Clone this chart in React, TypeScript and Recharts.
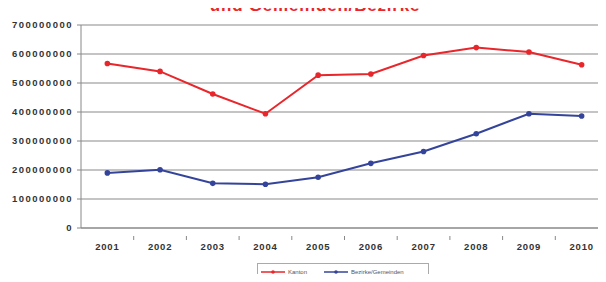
import React from 'react';
import { LineChart, Line, XAxis, YAxis, CartesianGrid } from 'recharts';

const years = ['2001', '2002', '2003', '2004', '2005', '2006', '2007', '2008', '2009', '2010'];
const kanton = [567000000, 540000000, 462000000, 394000000, 527000000, 531000000, 595000000, 622000000, 607000000, 563000000];
const bezirke = [190000000, 201000000, 154000000, 151000000, 175000000, 223000000, 264000000, 325000000, 394000000, 386000000];
const yTicks = [0, 100000000, 200000000, 300000000, 400000000, 500000000, 600000000, 700000000];

const data = years.map((year, i) => ({ year, kanton: kanton[i], bezirke: bezirke[i] }));

const RED = '#e8262b';
const BLUE = '#34449a';
const FONT = 'Liberation Sans, Arial, sans-serif';

const tickStyle = { fontSize: 9.5, fontWeight: 700, fill: '#333', fontFamily: FONT };

// year label plus a small tick mark on the band boundary (excel style)
const YearTick = (props: any) => {
    const { x, y, payload } = props;
    const half = payload && payload.offset ? payload.offset : 26;
    return (
        <g>
            <line x1={x + half} y1={y} x2={x + half} y2={y + 4} stroke="#888" />
            <text x={x} y={y + 14} textAnchor="middle" {...tickStyle} letterSpacing={0.8}>
                {payload.value}
            </text>
        </g>
    );
};

const LegendBox = () => (
    <div
        style={{
            position: 'absolute',
            left: 257,
            top: 263,
            width: 170,
            height: 15,
            border: '1px solid #aaa',
            display: 'flex',
            alignItems: 'center',
            fontSize: 6,
            fontFamily: FONT,
            color: '#555',
            background: '#fff',
        }}
    >
        <svg width={24} height={8} style={{ marginLeft: 3 }}>
            <line x1={0} y1={4} x2={24} y2={4} stroke={RED} strokeWidth={1.5} />
            <circle cx={12} cy={4} r={1.8} fill={RED} />
        </svg>
        <span style={{ marginLeft: 3, width: 36 }}>Kanton</span>
        <svg width={24} height={8}>
            <line x1={0} y1={4} x2={24} y2={4} stroke={BLUE} strokeWidth={1.5} />
            <circle cx={12} cy={4} r={1.8} fill={BLUE} />
        </svg>
        <span style={{ marginLeft: 3 }}>Bezirke/Gemeinden</span>
    </div>
);

export default function App() {
    return (
        <div style={{ position: 'relative', margin: -8, width: 606, height: 282, overflow: 'hidden', background: '#fff' }}>
            <LineChart width={612} height={282} data={data} margin={{ top: 25, right: 4, bottom: 20, left: 0 }}>
                <CartesianGrid vertical={false} stroke="#8a8a8a" strokeWidth={1.2} />
                <XAxis
                    dataKey="year"
                    scale="band"
                    height={34}
                    tickLine={false}
                    axisLine={{ stroke: '#888' }}
                    tick={<YearTick />}
                    interval={0}
                />
                <YAxis
                    width={81}
                    domain={[0, 700000000]}
                    ticks={yTicks}
                    interval={0}
                    tickSize={4}
                    tickLine={{ stroke: '#888' }}
                    axisLine={{ stroke: '#888' }}
                    tick={{ ...tickStyle, letterSpacing: 1.5 }}
                    tickMargin={4}
                />
                <Line
                    dataKey="kanton"
                    stroke={RED}
                    strokeWidth={2}
                    dot={{ r: 1.8, fill: RED, stroke: RED }}
                    isAnimationActive={false}
                />
                <Line
                    dataKey="bezirke"
                    stroke={BLUE}
                    strokeWidth={2}
                    dot={{ r: 1.8, fill: BLUE, stroke: BLUE }}
                    isAnimationActive={false}
                />
            </LineChart>
            <div
                style={{
                    position: 'absolute',
                    left: 0,
                    width: 630,
                    top: -3,
                    zIndex: 2,
                    textAlign: 'center',
                    fontFamily: FONT,
                    fontWeight: 700,
                    fontSize: 17,
                    lineHeight: '17px',
                    letterSpacing: 0.8,
                    color: RED,
                }}
            >
                und Gemeinden/Bezirke
            </div>
            <LegendBox />
        </div>
    );
}
